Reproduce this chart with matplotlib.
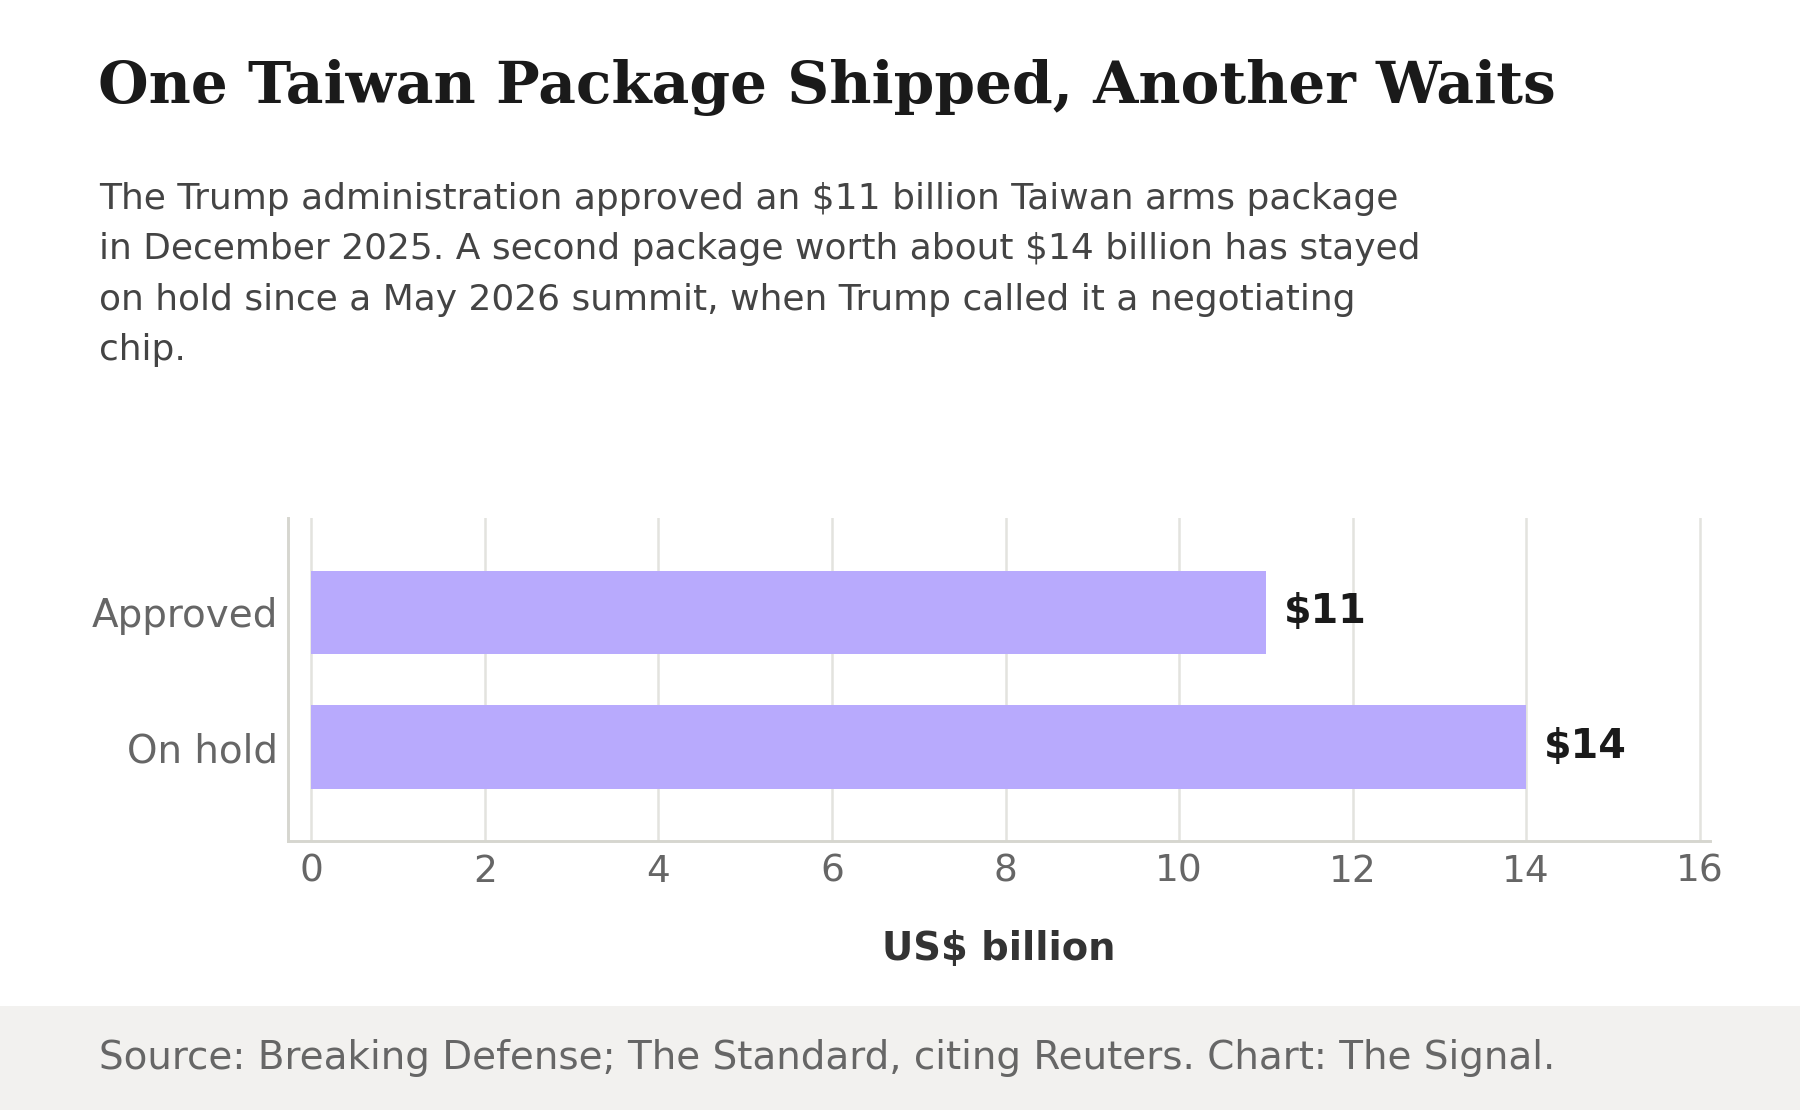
import numpy as np
import matplotlib
matplotlib.use("Agg")
import matplotlib.pyplot as plt
from matplotlib.patches import Rectangle

# data
categories = ["Approved", "On hold"]
values = [11, 14]
value_labels = ["$11", "$14"]
x_ticks = [0, 2, 4, 6, 8, 10, 12, 14, 16]

title = "One Taiwan Package Shipped, Another Waits"
subtitle = ("The Trump administration approved an $11 billion Taiwan arms package\n"
            "in December 2025. A second package worth about $14 billion has stayed\n"
            "on hold since a May 2026 summit, when Trump called it a negotiating\n"
            "chip.")
source = "Source: Breaking Defense; The Standard, citing Reuters. Chart: The Signal."

BAR = "#b8aafd"
GRID = "#e3e3de"
SPINE = "#d6d6cf"


def main():
    plt.rcParams["font.family"] = ["DejaVu Sans"]
    fig = plt.figure(figsize=(12, 7.4), dpi=150)
    fig.patch.set_facecolor("white")

    # footer band
    fig.patches.append(Rectangle((0, 0), 1, 0.0937, transform=fig.transFigure,
                                 facecolor="#f2f1ef", edgecolor="none", zorder=0))

    ax = fig.add_axes([0.160, 0.2419, 0.790, 0.2914])
    y = np.arange(len(categories))
    ax.barh(y, values, height=0.62, color=BAR, zorder=3)
    for yi, v, lab in zip(y, values, value_labels):
        ax.annotate(lab, (v, yi), xytext=(8.5, 0), textcoords="offset points",
                    va="center", ha="left", fontsize=19, fontweight="bold",
                    color="#1a1a1a")

    ax.set_xlim(-0.27, 16.12)
    ax.set_ylim(1.70, -0.70)
    ax.set_xticks(x_ticks)
    ax.set_yticks(y)
    ax.set_yticklabels(categories)
    ax.tick_params(axis="x", length=0, pad=6, labelsize=18, labelcolor="#666666")
    ax.tick_params(axis="y", length=0, pad=5, labelsize=18.7, labelcolor="#666666")
    ax.grid(True, axis="x", color=GRID, linewidth=1.2, zorder=0)
    ax.set_axisbelow(True)
    for s in ["top", "right"]:
        ax.spines[s].set_visible(False)
    for s in ["left", "bottom"]:
        ax.spines[s].set_color(SPINE)
        ax.spines[s].set_linewidth(1.4)
    ax.set_xlabel("US$ billion", fontsize=18.5, fontweight="bold", color="#333333",
                  labelpad=19)

    fig.text(0.0545, 0.9075, title, family="DejaVu Serif", fontweight="bold",
             fontsize=27.9, color="#1a1a1a", va="baseline", ha="left")
    # baseline of a multi-line text is that of its last line
    fig.text(0.0548, 0.6757, subtitle, fontsize=17.3, color="#444444",
             va="baseline", ha="left", linespacing=1.61)
    fig.text(0.0548, 0.0369, source, fontsize=18.7, color="#666666",
             va="baseline", ha="left")

    fig.savefig("out.png", dpi=150)


if __name__ == "__main__":
    main()
